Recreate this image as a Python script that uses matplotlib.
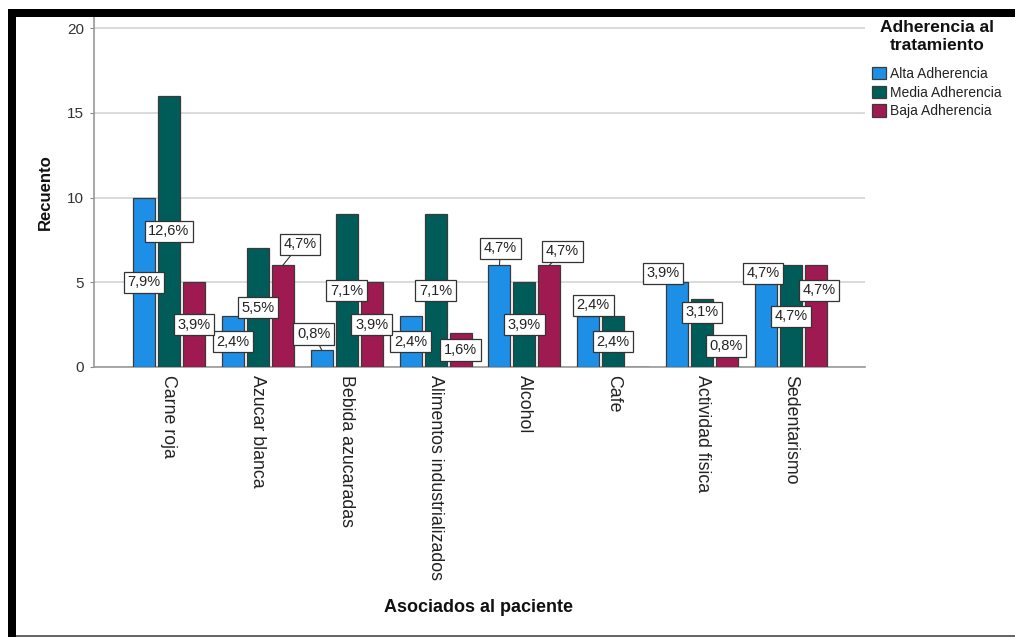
import matplotlib
matplotlib.use("Agg")
import matplotlib.pyplot as plt
from matplotlib.patches import Rectangle
import numpy as np

plt.rcParams['font.family'] = ['Liberation Sans', 'DejaVu Sans']

categories = ["Carne roja", "Azucar blanca", "Bebida azucaradas", "Alimentos industrializados",
              "Alcohol", "Cafe", "Actividad fisica", "Sedentarismo"]
series_names = ["Alta Adherencia", "Media Adherencia", "Baja Adherencia"]
alta = [10, 3, 1, 3, 6, 3, 5, 6]
media = [16, 7, 9, 9, 5, 3, 4, 6]
baja = [5, 6, 5, 2, 6, 0, 1, 6]
total_n = 127
yticks = [0, 5, 10, 15, 20]
legend_title_lines = ["Adherencia al", "tratamiento"]

colors = ["#1E8FE6", "#005C58", "#9E1A50"]

# label placement overrides: (series, category) -> (dx px, dy px) relative to bar top
top_offsets = {(2, 1): (17, 21), (0, 2): (-8, 16), (0, 4): (1, 17), (2, 4): (13, 14),
               (0, 5): (5, 11), (0, 6): (-14, 9), (1, 6): (0, -13), (2, 6): (-1, 4),
               (0, 7): (-3, -8), (2, 7): (3, -25)}

W, H = 1015, 637
fig = plt.figure(figsize=(W / 100, H / 100), dpi=100)
ax_left, ax_right, ax_bottom, ax_top = 94, 865, 367, 17
ax = fig.add_axes([ax_left / W, (H - ax_bottom) / H, (ax_right - ax_left) / W, (ax_bottom - ax_top) / H])

x = np.arange(len(categories))
data = [alta, media, baja]
offs = [-0.281, 0.0, 0.281]
bw = 0.2475
for s, (vals, c, o) in enumerate(zip(data, colors, offs)):
    ax.bar(x + o, vals, width=bw, color=c, edgecolor="#3a3a3a", linewidth=0.9,
           label=series_names[s], zorder=3)

for s, (vals, o) in enumerate(zip(data, offs)):
    for i, v in enumerate(vals):
        if v == 0:
            continue
        txt = f"{v / total_n * 100:.1f}%".replace(".", ",")
        bbox = dict(boxstyle="square,pad=0.25", fc="white", ec="#333333", lw=0.9)
        if (s, i) in top_offsets:
            dx, dy = top_offsets[(s, i)]
            arrow = dict(arrowstyle="-", color="#333333", lw=0.8, shrinkA=0, shrinkB=0) if dy >= 11 else None
            ax.annotate(txt, xy=(i + o, v), xytext=(dx, dy), textcoords="offset pixels",
                        ha="center", va="center", fontsize=10.5, color="#222222",
                        bbox=bbox, arrowprops=arrow, zorder=5, annotation_clip=False)
        else:
            ax.annotate(txt, xy=(i + o, v / 2), xytext=(0, 0), textcoords="offset pixels",
                        ha="center", va="center", fontsize=10.5, color="#222222",
                        bbox=bbox, zorder=5)

ax.set_xlim(-0.844, 7.833)
ax.set_ylim(0, 20.65)
ax.set_yticks(yticks)
ax.set_yticklabels([str(t) for t in yticks], fontsize=11, color="#333333")
ax.yaxis.grid(True, color="#d4d4d4", linewidth=1.2, zorder=0)
ax.set_axisbelow(True)
ax.tick_params(axis="y", length=3, color="#888888", pad=4)
ax.set_xticks(x)
ax.set_xticklabels(categories, rotation=270, fontsize=12.8, color="#222222", va="top", ha="center")
ax.tick_params(axis="x", length=0, pad=6)
for sp in ["top", "right"]:
    ax.spines[sp].set_visible(False)
ax.spines["left"].set_color("#999999")
ax.spines["bottom"].set_color("#999999")
ax.spines["left"].set_linewidth(1.2)
ax.spines["bottom"].set_linewidth(1.2)

fig.text(45 / W, 1 - 192 / H, "Recuento", rotation=90, ha="center", va="center",
         fontsize=12, fontweight="bold", color="#111111")
fig.text(478 / W, 1 - 607 / H, "Asociados al paciente", ha="center", va="center",
         fontsize=13, fontweight="bold", color="#111111")

for line, ypx in zip(legend_title_lines, [28, 45]):
    fig.text(937 / W, 1 - ypx / H, line, ha="center", va="center",
             fontsize=12.5, fontweight="bold", color="#111111")

leg = fig.legend(loc="upper left", bbox_to_anchor=(862 / W, 1 - 57 / H), frameon=False,
                 fontsize=10,
                 handlelength=1.0, handleheight=1.0, handletextpad=0.3, labelspacing=0.35,
                 borderpad=0.2)
for t in leg.get_texts():
    t.set_color("#222222")

# outer frame as in the screenshot
fig.patches.append(Rectangle((8 / W, 1 - 17 / H), 1 - 8 / W, 8 / H, transform=fig.transFigure,
                             facecolor="black", edgecolor="none", zorder=10))
fig.patches.append(Rectangle((8 / W, 0), 8 / W, 1 - 9 / H, transform=fig.transFigure,
                             facecolor="black", edgecolor="none", zorder=10))
fig.patches.append(Rectangle((16 / W, 0), 1, 2.5 / H, transform=fig.transFigure,
                             facecolor="#666666", edgecolor="none", zorder=10))

fig.savefig("out.png", dpi=100)
